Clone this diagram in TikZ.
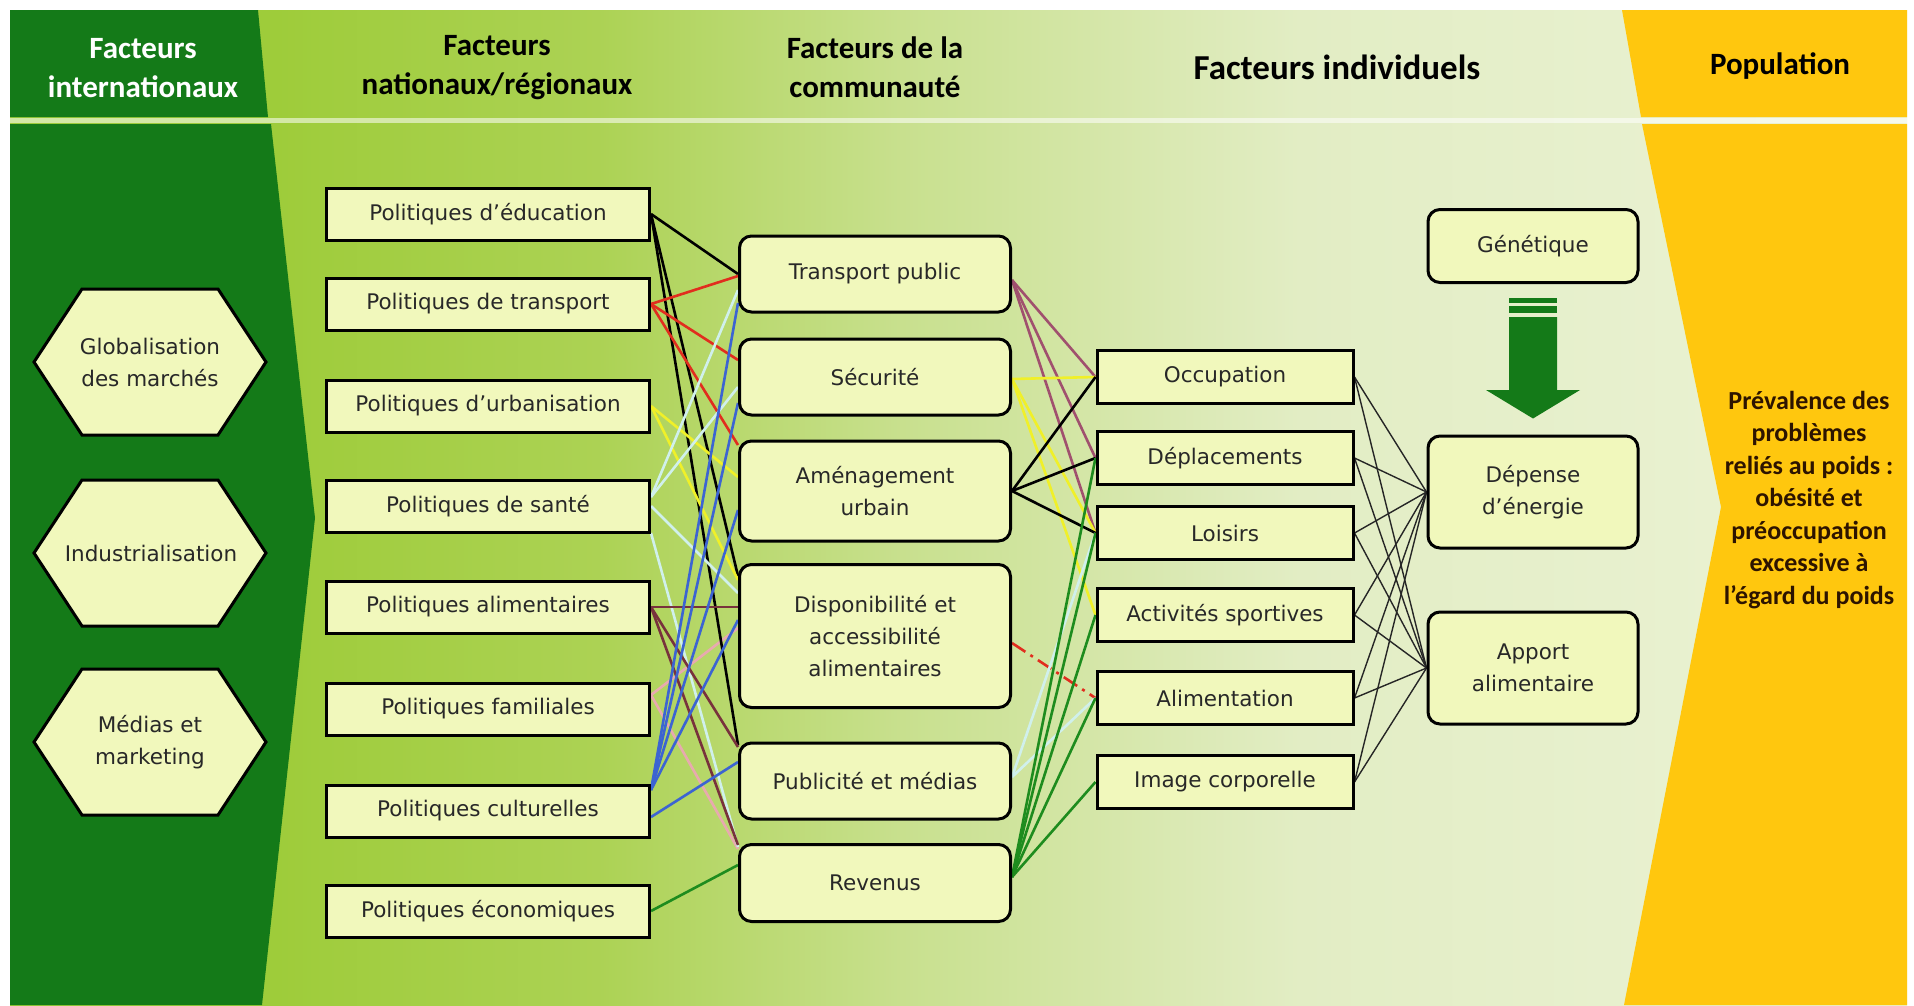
\documentclass[tikz,border=0pt]{standalone}
\usepackage{fontspec}
\setmainfont{DejaVu Sans}
\newfontfamily\headfont{Carlito}
\usetikzlibrary{calc}

\definecolor{boxfill}{RGB}{241,248,188}
\definecolor{boxtext}{RGB}{40,40,40}
\definecolor{darkgreen}{RGB}{20,122,24}
\definecolor{popyellow}{RGB}{255,199,14}
\definecolor{bgA}{RGB}{158,204,58}
\definecolor{bgB}{RGB}{172,210,84}
\definecolor{bgC}{RGB}{200,224,142}
\definecolor{bgD}{RGB}{226,237,196}
\definecolor{bgE}{RGB}{236,243,214}
\definecolor{linered}{RGB}{225,45,30}
\definecolor{lineyellow}{RGB}{240,240,40}
\definecolor{linecyan}{RGB}{208,240,236}
\definecolor{lineblue}{RGB}{60,100,210}
\definecolor{linemaroon}{RGB}{120,50,60}
\definecolor{linepink}{RGB}{232,170,175}
\definecolor{linegreen}{RGB}{30,140,30}
\definecolor{linemauve}{RGB}{160,80,110}
\definecolor{prevtext}{RGB}{45,20,0}

\pgfdeclarehorizontalshading{bandshade}{100bp}{color(0bp)=(bgA); color(32bp)=(bgA);
  color(40.5bp)=(bgB); color(48.5bp)=(bgC); color(59bp)=(bgD); color(75bp)=(bgE); color(100bp)=(bgE)}
\pgfdeclarelayer{bg}
\pgfsetlayers{bg,main}

\newcommand\boxfont{\fontsize{21.5}{32}\selectfont}

\begin{document}
\begin{tikzpicture}[x=1pt,y=-1pt,
  polbox/.style={draw, line width=3, fill=boxfill, text=boxtext, font=\boxfont,
    minimum width=323, minimum height=52, inner sep=0, align=center},
  combox/.style={polbox, rounded corners=12, minimum width=271},
  indbox/.style={polbox, minimum width=256, minimum height=53},
  resbox/.style={combox, minimum width=210},
  hexline/.style={draw, line width=3, fill=boxfill},
  hextext/.style={text=boxtext, font=\boxfont, align=center},
  head/.style={font=\headfont\bfseries\fontsize{31}{39}\selectfont, align=center},
  link/.style={line width=2.6},
  thinlink/.style={line width=1.4, black!85}]
\useasboundingbox (0,0) rectangle (1914,1005);

\begin{pgfonlayer}{bg}
% background bands
\fill[shading=bandshade] (10,10) rectangle (1907,1005);
\fill[darkgreen] (10,10) -- (258,10) -- (268,117) -- (10,117) -- cycle;
\fill[darkgreen] (10,124) -- (271,124) -- (315,518) -- (262,1005) -- (10,1005) -- cycle;
\fill[popyellow] (1622,10) -- (1907,10) -- (1907,117) -- (1641,117) -- cycle;
\fill[popyellow] (1642,124) -- (1907,124) -- (1907,1005) -- (1624,1005) -- (1721,507) -- cycle;
\draw[white, opacity=.55, line width=5] (10,120.5) -- (1907,120.5);
\end{pgfonlayer}

% headers
\node[head, text=white] (hinter) at (143,68) {Facteurs\\internationaux};
\node[head] (hnat) at (497,68) {Facteurs\\nationaux/régionaux};
\node[head] (hcomm) at (875,67) {Facteurs de la\\communauté};
\node[head, font=\headfont\bfseries\fontsize{35}{40}\selectfont] (hindiv) at (1337,67) {Facteurs individuels};
\node[head] (hpop) at (1780,66) {Population};

% international factors
\foreach \y in {362,553,742}
  \filldraw[hexline] (34,\y) -- (82,\y-73) -- (218,\y-73) -- (266,\y) -- (218,\y+73) -- (82,\y+73) -- cycle;
\node[hextext] (glob) at (150,362) {Globalisation\\des marchés};
\node[hextext] (indus) at (151,553) {Industrialisation};
\node[hextext] (media) at (150,742) {Médias et\\marketing};

% national / regional policies
\node[polbox] (peduc) at (488,214) {Politiques d’éducation};
\node[polbox] (ptrans) at (488,304) {Politiques de transport};
\node[polbox] (purb) at (488,406) {Politiques d’urbanisation};
\node[polbox] (psante) at (488,506) {Politiques de santé};
\node[polbox] (palim) at (488,607) {Politiques alimentaires};
\node[polbox] (pfam) at (488,709) {Politiques familiales};
\node[polbox] (pcult) at (488,811) {Politiques culturelles};
\node[polbox] (peco) at (488,911) {Politiques économiques};

% community
\node[combox, minimum height=76] (ctrans) at (875,274) {Transport public};
\node[combox, minimum height=76] (csecu) at (875,377) {Sécurité};
\node[combox, minimum height=100] (camen) at (875,491) {Aménagement\\urbain};
\node[combox, minimum height=143] (cdispo) at (875,636) {Disponibilité et\\accessibilité\\alimentaires};
\node[combox, minimum height=76] (cpub) at (875,781) {Publicité et médias};
\node[combox, minimum height=77] (crev) at (875,883) {Revenus};

% individual
\node[indbox] (ioccup) at (1225,377) {Occupation};
\node[indbox] (idepl) at (1225,458) {Déplacements};
\node[indbox] (iloisir) at (1225,533) {Loisirs};
\node[indbox] (isport) at (1225,615) {Activités sportives};
\node[indbox] (ialim) at (1225,698) {Alimentation};
\node[indbox] (iimage) at (1225,782) {Image corporelle};

% outcomes
\node[resbox, minimum height=73] (gen) at (1533,246) {Génétique};
\node[resbox, minimum height=112] (depense) at (1533,492) {Dépense\\d’énergie};
\node[resbox, minimum height=112] (apport) at (1533,668) {Apport\\alimentaire};
\node[font=\headfont\bfseries\fontsize{26}{32.5}\selectfont, text=prevtext, align=center]
  (prev) at (1809,500) {Prévalence des\\problèmes\\reliés au poids :\\obésité et\\préoccupation\\excessive à\\l’égard du poids};

% genetics arrow
\fill[darkgreen] ($(gen.south)+(-24,14)$) rectangle ($(gen.south)+(24,19)$);
\fill[darkgreen] ($(gen.south)+(-24,22)$) rectangle ($(gen.south)+(24,29)$);
\fill[darkgreen] ($(gen.south)+(-24,33)$) -- ($(gen.south)+(24,33)$) -- ($(gen.south)+(24,106)$)
  -- ($(gen.south)+(47,106)$) -- ($(depense.north)+(0,-16)$) -- ($(gen.south)+(-47,106)$)
  -- ($(gen.south)+(-24,106)$) -- cycle;

\begin{pgfonlayer}{bg}
% national -> community
\draw[link, linepink] ($(pfam.east)+(0,-14)$) -- ($(cdispo.west)+(0,-8)$);
\draw[link, linepink] ($(pfam.east)+(0,-14)$) -- ($(crev.west)+(0,-34)$);
\draw[link, black] (peduc.east) -- (ctrans.west);
\draw[link, black] (peduc.east) -- ($(cdispo.west)+(0,-60)$);
\draw[link, black] (peduc.east) -- ($(cpub.west)+(0,-36)$);
\draw[link, linered] (ptrans.east) -- ($(ctrans.west)+(0,2)$);
\draw[link, linered] (ptrans.east) -- ($(csecu.west)+(0,-17)$);
\draw[link, linered] (ptrans.east) -- ($(camen.west)+(0,-46)$);
\draw[link, lineyellow] (purb.east) -- ($(camen.west)+(0,-14)$);
\draw[link, lineyellow] (purb.east) -- ($(cdispo.west)+(0,-56)$);
\draw[link, linecyan] ($(psante.east)+(0,-9)$) -- ($(ctrans.west)+(0,16)$);
\draw[link, linecyan] ($(psante.east)+(0,-9)$) -- ($(csecu.west)+(0,10)$);
\draw[link, linecyan] (psante.east) -- ($(cdispo.west)+(0,-43)$);
\draw[link, linecyan] ($(psante.east)+(0,27)$) -- ($(crev.west)+(0,-36)$);
\draw[link, linemaroon] (palim.east) -- ($(cdispo.west)+(0,-29)$);
\draw[link, linemaroon] (palim.east) -- ($(cpub.west)+(0,-34)$);
\draw[link, linemaroon] (palim.east) -- ($(crev.west)+(0,-38)$);
\foreach \t/\dy in {ctrans/29, csecu/26, camen/19, cdispo/-16}
  \draw[link, lineblue] ($(pcult.east)+(0,-21)$) -- ($(\t.west)+(0,\dy)$);
\draw[link, lineblue] ($(pcult.east)+(0,6)$) -- ($(cpub.west)+(0,-19)$);
\draw[link, linegreen] (peco.east) -- ($(crev.west)+(0,-18)$);

% community -> individual
\foreach \t in {ioccup,idepl,iloisir}
  \draw[link, linemauve] ($(ctrans.east)+(0,6)$) -- (\t.west);
\foreach \t in {ioccup,iloisir,isport}
  \draw[link, lineyellow] ($(csecu.east)+(0,2)$) -- (\t.west);
\foreach \t in {ioccup,idepl,iloisir}
  \draw[link, black] (camen.east) -- (\t.west);
\draw[link, linered, dash pattern=on 16pt off 6pt on 3pt off 6pt] ($(cdispo.east)+(0,7)$) -- (ialim.west);
\draw[link, linecyan] ($(cpub.east)+(0,-4)$) -- (iloisir.west);
\draw[link, linecyan] ($(cpub.east)+(0,-4)$) -- (ialim.west);
\foreach \t in {idepl,iloisir,isport,ialim,iimage}
  \draw[link, linegreen] ($(crev.east)+(0,-6)$) -- (\t.west);

% individual -> outcomes
\foreach \s in {ioccup,idepl,iloisir,isport,ialim,iimage} {
  \draw[thinlink] (\s.east) -- (depense.west);
  \draw[thinlink] (\s.east) -- (apport.west);
}
\end{pgfonlayer}
\end{tikzpicture}
\end{document}
